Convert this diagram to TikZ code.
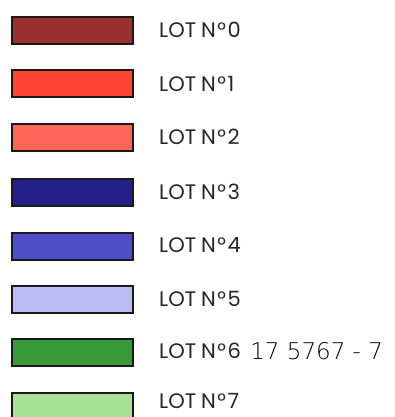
\documentclass[tikz,border=0pt]{standalone}
\usepackage{fontspec}
\setmainfont{Poppins}
\newfontfamily\handfont{DejaVu Sans ExtraLight}
\definecolor{lot0}{HTML}{9B3030}
\definecolor{lot1}{HTML}{FF4433}
\definecolor{lot2}{HTML}{FF6655}
\definecolor{lot3}{HTML}{231F88}
\definecolor{lot4}{HTML}{4E4EC8}
\definecolor{lot5}{HTML}{BCBCF4}
\definecolor{lot6}{HTML}{3A9A3A}
\definecolor{lot7}{HTML}{A8E094}
\begin{document}
\begin{tikzpicture}[x=1pt,y=-1pt,
  swatch/.style={draw=black!90,line width=2pt,minimum width=121pt,minimum height=27pt,inner sep=0pt,anchor=north west},
  lbl/.style={anchor=west,inner sep=0pt,font=\fontsize{21}{24}\selectfont,text=black!85}]
\useasboundingbox (0,0) rectangle (395,417);
\foreach \i/\y/\d in {0/16/14,1/69.5/14,2/123/14,3/177.5/14,4/231.5/14,5/284.5/14,6/338/13,7/392/9}{
  \node[swatch,fill=lot\i] (s\i) at (11,\y) {};
  \node[lbl] (l\i) at (159,\y+\d) {LOT\kern-0.5pt\ N\kern1.5pt°\kern1.5pt\i};
}
\node[anchor=west,inner sep=0pt,font=\handfont\fontsize{23}{26}\selectfont] (h6) at ([xshift=9pt]l6.east) {17 5767 - 7};
\end{tikzpicture}
\end{document}
